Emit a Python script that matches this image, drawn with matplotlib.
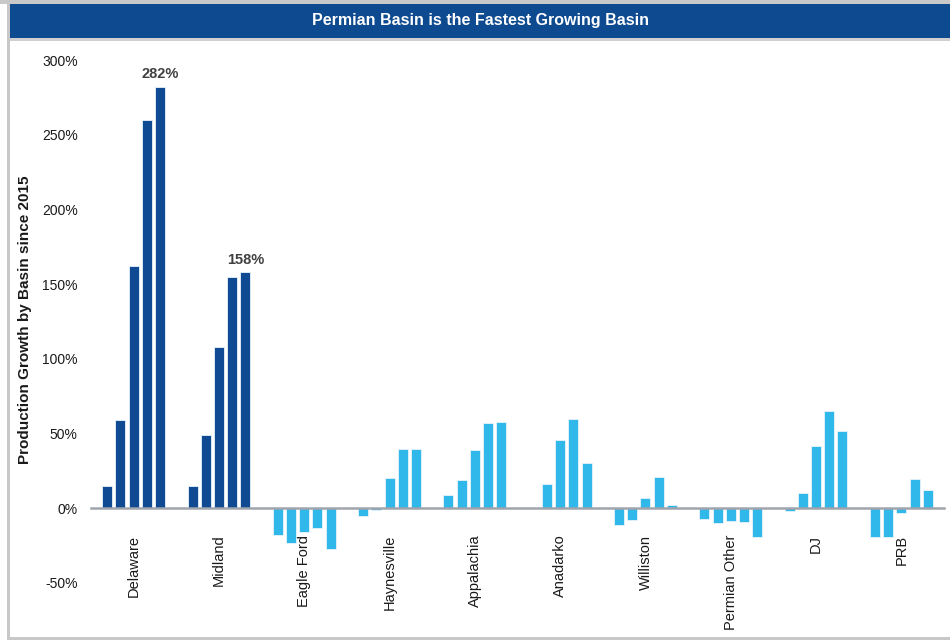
import matplotlib
matplotlib.use("Agg")
import matplotlib.pyplot as plt
import numpy as np
from matplotlib.patches import Rectangle
from matplotlib.ticker import FuncFormatter

plt.rcParams['font.family'] = ['Liberation Sans', 'DejaVu Sans']

basins = ["Delaware", "Midland", "Eagle Ford", "Haynesville", "Appalachia",
          "Anadarko", "Williston", "Permian Other", "DJ", "PRB"]
# growth since 2015 (%), five periods per basin (None = no bar)
delaware = [15, 59, 162, 260, 282]
midland = [15, 49, 108, 155, 158]
eagle_ford = [-18, -23, -16, -13, -27]
haynesville = [-5, -1, 20, 40, 40]
appalachia = [9, 19, 39, 57, 58]
anadarko = [None, 16, 46, 60, 30]
williston = [-11, -8, 7, 21, 2.5]
permian_other = [-7, -10, -8.5, -9.5, -19]
dj = [-2, 10, 42, 65, 52]
prb = [-19.5, -19, -3, 19.5, 12.5]
series = [delaware, midland, eagle_ford, haynesville, appalachia,
          anadarko, williston, permian_other, dj, prb]
permian_core = ["Delaware", "Midland"]
annotated = {"Delaware": "282%", "Midland": "158%"}
title = "Permian Basin is the Fastest Growing Basin"
ylabel = "Production Growth by Basin since 2015"
yticks = [-50, 0, 50, 100, 150, 200, 250, 300]

dark_blue = "#0F4A92"
light_blue = "#30B8EA"

W, H = 950, 640
fig = plt.figure(figsize=(W / 100, H / 100), dpi=100, facecolor="white")

# frame and title bar
def frect(x0, y0, w, h, color, z):
    fig.patches.append(Rectangle((x0, y0), w, h, transform=fig.transFigure,
                                 facecolor=color, edgecolor="none", zorder=z))

frect(7 / W, 0, 3 / W, 1, "#C8C8C8", -5)
frect(7 / W, 0, 1, 3 / H, "#C8C8C8", -5)
frect(0, 1 - 4 / H, 1, 4 / H, "#C8C8C8", -5)
frect(10 / W, 1 - 41 / H, 1, 3 / H, "#D0D0D0", -5)
frect(10 / W, 1 - 38 / H, 1, 34 / H, "#0E4A90", -4)
fig.text((10 + W) / 2 / W, 1 - 21 / H, title, color="white", fontsize=11.5,
         fontweight="bold", ha="center", va="center",
         family=["Liberation Sans Narrow", "Liberation Sans", "DejaVu Sans"], zorder=3)

ax = fig.add_axes([91 / W, (H - 583) / H, (944 - 91) / W, (583 - 60) / H], zorder=5)
ax.set_facecolor("none")

slot = 0.1548
bw = 0.118
for i, (name, vals) in enumerate(zip(basins, series)):
    color = dark_blue if name in permian_core else light_blue
    for j, v in enumerate(vals):
        if v is None:
            continue
        x = i + (j - 2) * slot
        ax.bar(x, v / 100, width=bw, color=color, edgecolor="#E8F4FB",
               linewidth=0.6, zorder=2)
    if name in annotated:
        j = len(vals) - 1
        ax.annotate(annotated[name], (i + (j - 2) * slot, vals[j] / 100),
                    xytext=(0, 4), textcoords="offset points", ha="center",
                    va="bottom", fontsize=10.5, fontweight="bold", color="#404040")

for s in ["top", "right", "left"]:
    ax.spines[s].set_visible(False)
ax.spines["bottom"].set_position(("data", 0))
ax.spines["bottom"].set_color("#A0A4AC")
ax.spines["bottom"].set_linewidth(1.8)
ax.spines["bottom"].set_zorder(3)

ax.set_xlim(-0.5, len(basins) - 0.5)
ax.set_ylim(-0.5, 3.0)
ax.set_yticks([t / 100 for t in yticks])
ax.yaxis.set_major_formatter(FuncFormatter(lambda v, p: f"{v * 100:.0f}%"))
ax.tick_params(axis="y", length=0, pad=9.5, labelsize=10, labelcolor="#1A1A1A")

ax.set_xticks(range(len(basins)))
ax.set_xticklabels(basins)
ax.tick_params(axis="x", length=0, pad=19, labelrotation=90, labelsize=10.5,
               labelcolor="#1A1A1A")
for lab in ax.get_xticklabels():
    lab.set_verticalalignment("top")

fig.text(25 / W, (H - 320) / H, ylabel, rotation=90, fontsize=11, fontweight="bold",
         ha="center", va="center", color="#1A1A1A")

fig.savefig("out.png", dpi=100, facecolor="white")
